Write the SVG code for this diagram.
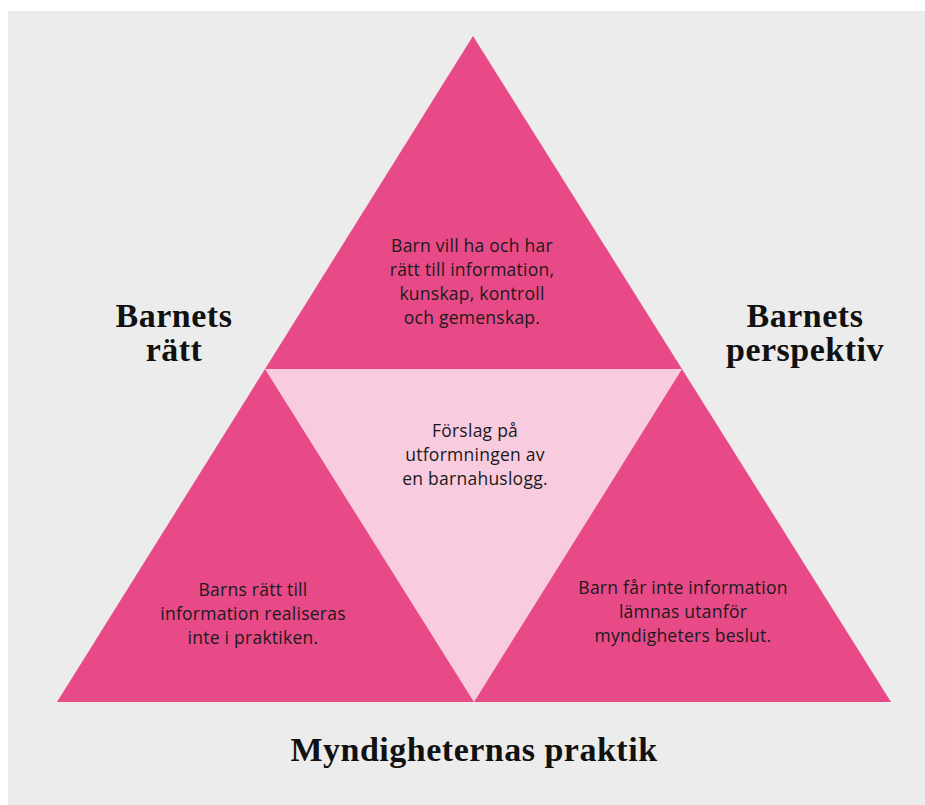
<svg xmlns="http://www.w3.org/2000/svg" width="925" height="805" viewBox="0 0 925 805">
<style>
.dark{fill:#e84a87}
.light{fill:#f8cbdf}
.body{font-family:"Open Sans","Noto Sans",sans-serif;font-size:17.5px;letter-spacing:0.25px;fill:#1a1a1a;text-anchor:middle;font-variant-ligatures:none}
.head{font-family:"Liberation Serif","DejaVu Serif",serif;font-weight:bold;font-size:34px;letter-spacing:0.5px;fill:#111;text-anchor:middle}
</style>
<rect x="8" y="11" width="917" height="794" fill="#ececec"/>
<g id="top">
<polygon class="dark" points="473,36 682,369 265,369"/>
<text class="body"><tspan x="472" y="252">Barn vill ha och har</tspan><tspan x="472" y="276">rätt till information,</tspan><tspan x="472" y="300">kunskap, kontroll</tspan><tspan x="472" y="324">och gemenskap.</tspan></text>
</g>
<g id="center">
<polygon class="light" points="265,369 682,369 474,702"/>
<text class="body"><tspan x="475" y="437">Förslag på</tspan><tspan x="475" y="461">utformningen av</tspan><tspan x="475" y="485">en barnahuslogg.</tspan></text>
</g>
<g id="left">
<polygon class="dark" points="265,369 474,702 57,702"/>
<text class="body"><tspan x="253" y="596">Barns rätt till</tspan><tspan x="253" y="620">information realiseras</tspan><tspan x="253" y="644">inte i praktiken.</tspan></text>
</g>
<g id="right">
<polygon class="dark" points="682,369 891,702 474,702"/>
<text class="body"><tspan x="683" y="594">Barn får inte information</tspan><tspan x="683" y="618">lämnas utanför</tspan><tspan x="683" y="642">myndigheters beslut.</tspan></text>
</g>
<g id="label-left"><text class="head"><tspan x="174" y="327">Barnets</tspan><tspan x="174" y="361">rätt</tspan></text></g>
<g id="label-right"><text class="head"><tspan x="805" y="327">Barnets</tspan><tspan x="805" y="361">perspektiv</tspan></text></g>
<g id="label-bottom"><text class="head"><tspan x="474" y="761">Myndigheternas praktik</tspan></text></g>
<g id="connectors"/>
</svg>
